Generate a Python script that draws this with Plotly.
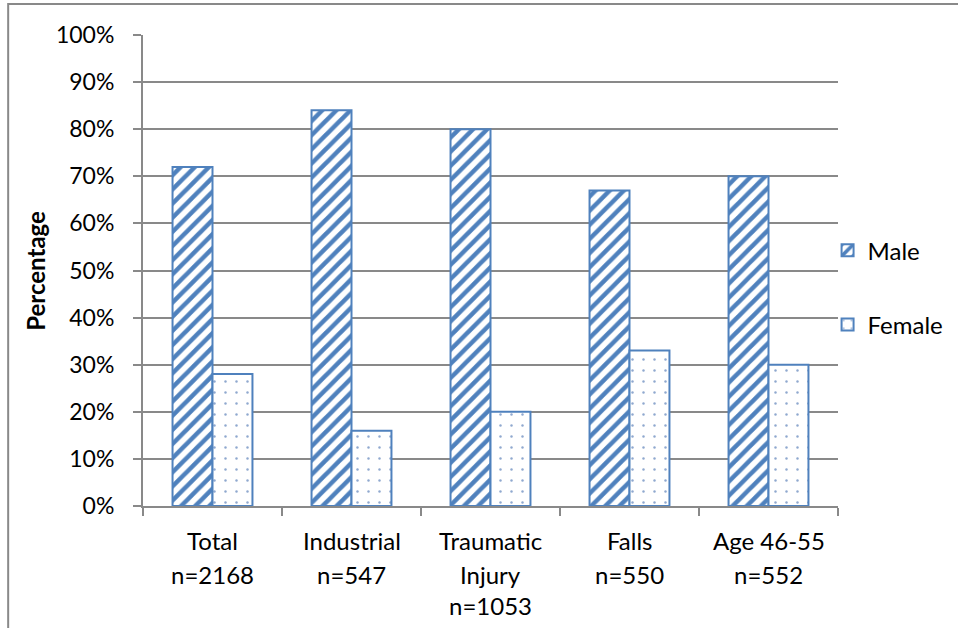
import plotly.graph_objects as go

# Share of patients by sex within each group
group_lines = [
    ["Total", "n=2168"],
    ["Industrial", "n=547"],
    ["Traumatic", "Injury", "n=1053"],
    ["Falls", "n=550"],
    ["Age 46-55", "n=552"],
]
categories = ["Total", "Industrial", "Traumatic Injury", "Falls", "Age 46-55"]
male_pct = [72, 84, 80, 67, 70]
female_pct = [28, 16, 20, 33, 30]
y_ticks = list(range(0, 101, 10))

BLUE = "#4F81BD"
GRID = "#898989"
FONT = "Lato"

fig = go.Figure()
fig.add_trace(go.Bar(
    name="Male", x=categories, y=male_pct, legendgroup="m",
    marker=dict(color="white", line=dict(color=BLUE, width=2),
                pattern=dict(shape="/", fgcolor=BLUE, bgcolor="white",
                             size=10, solidity=0.45, fillmode="replace")),
))
fig.add_trace(go.Bar(
    name="Female", x=categories, y=female_pct, legendgroup="f",
    marker=dict(color="white", line=dict(color=BLUE, width=2),
                pattern=dict(shape=".", fgcolor="#8FA8CF", bgcolor="white",
                             size=11, solidity=0.04, fillmode="replace")),
))

# Multi-line category labels under the axis
line_y = [-0.0743, -0.1444, -0.2123]
annotations = []
for cat, lines in zip(categories, group_lines):
    for i, txt in enumerate(lines):
        annotations.append(dict(
            x=cat, y=line_y[i], xref="x", yref="paper", text=txt,
            showarrow=False, xanchor="center", yanchor="middle",
            font=dict(family=FONT, size=24, color="black"),
        ))
annotations.append(dict(
    x=-0.155, y=0.5, xref="paper", yref="paper", text="<b>Percentage</b>",
    textangle=-90, showarrow=False, xanchor="center", yanchor="middle",
    font=dict(family=FONT, size=24, color="black"),
))

fig.update_layout(
    width=958, height=628,
    margin=dict(l=143, r=120, t=35, b=122, autoexpand=False),
    paper_bgcolor="white", plot_bgcolor="white",
    barmode="group", bargap=0.425, bargroupgap=0,
    font=dict(family=FONT, size=23, color="black"),
    annotations=annotations,
    legend=dict(x=0.985, y=0.59, xanchor="left", yanchor="top",
                font=dict(family=FONT, size=24, color="black"),
                tracegroupgap=40, traceorder="grouped",
                bgcolor="rgba(0,0,0,0)"),
    shapes=[dict(type="rect", xref="paper", yref="paper",
                 x0=-0.194, y0=-2, x1=2, y1=1.066,
                 line=dict(color=GRID, width=2), layer="below")],
)
fig.update_xaxes(
    showticklabels=False, showgrid=False,
    showline=True, linecolor=GRID, linewidth=2,
    ticks="outside", tickson="boundaries", ticklen=8, tickcolor=GRID, tickwidth=2,
)
fig.update_yaxes(
    range=[0, 100], tickvals=y_ticks, ticktext=[f"{v}%" for v in y_ticks],
    showgrid=True, gridcolor=GRID, gridwidth=2,
    showline=True, linecolor=GRID, linewidth=2,
    ticks="outside", ticklen=8, tickcolor=GRID, tickwidth=2,
    ticklabelstandoff=14, zeroline=False,
    tickfont=dict(family=FONT, size=23, color="black"),
)

fig.write_html("out.html")
